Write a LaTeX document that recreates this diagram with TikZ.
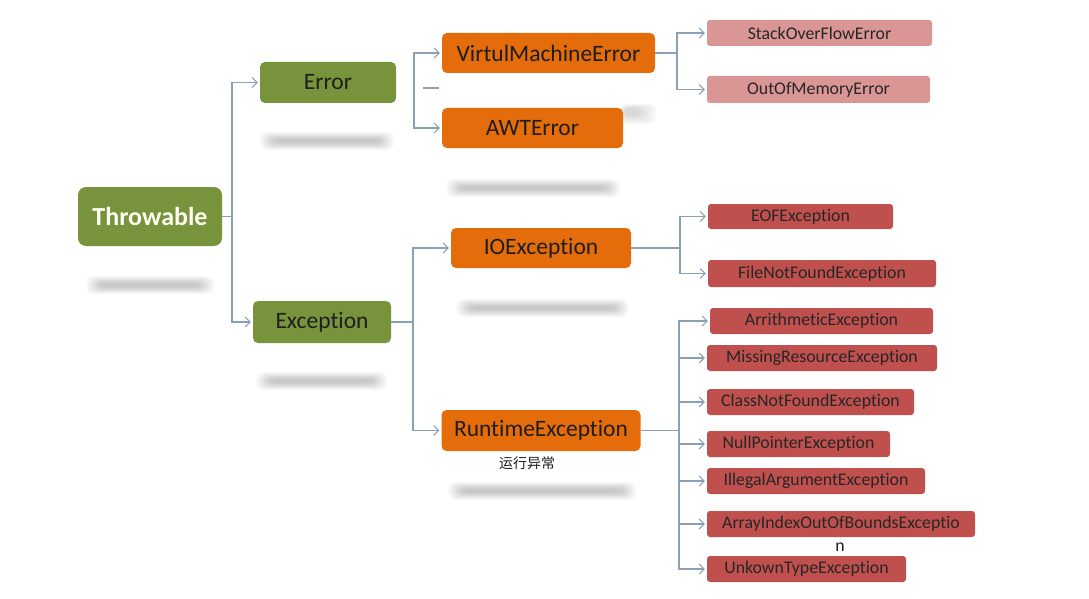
\documentclass[tikz,border=0pt]{standalone}
\usepackage{fontspec}
\setmainfont{Carlito}[Ligatures={NoCommon}]
\newfontfamily\cjk{Noto Sans CJK SC}
\usetikzlibrary{arrows.meta}
\definecolor{grn}{HTML}{77933C}
\definecolor{org}{HTML}{E46C0A}
\definecolor{pnk}{HTML}{D99694}
\definecolor{rd}{HTML}{C0504D}
\definecolor{ln}{HTML}{8AA0B4}
\definecolor{txt}{HTML}{1E1E1E}
\newcommand\blurbar[3]{%
  \foreach \i in {0,1,...,7}{%
    \fill[black,opacity=0.028,rounded corners=7pt] ({#1+\i*2},{-#3+9-\i}) rectangle ({#2-\i*2},{-#3-9+\i});}}
\tikzset{
  box/.style={rounded corners=5pt, inner sep=0pt, text=txt, align=center},
  grnbox/.style={box, fill=grn, font=\fontsize{23.5}{25}\selectfont},
  rootbox/.style={box, fill=grn, text=white!95!yellow, rounded corners=8pt, font=\bfseries\fontsize{26}{28}\selectfont},
  orgbox/.style={box, fill=org, font=\fontsize{23.5}{25}\selectfont},
  pnkbox/.style={box, fill=pnk, rounded corners=3pt, text=black!85, font=\fontsize{17.8}{19}\selectfont},
  rdbox/.style={box, fill=rd, rounded corners=3pt, text=black!85, font=\fontsize{17.8}{19}\selectfont},
  conn/.style={draw=ln, line width=1.1pt},
  arr/.style={conn, -{Straight Barb[length=5pt,width=10pt,line width=1pt]}, shorten >=2pt},
}
\begin{document}
\begin{tikzpicture}[x=1pt,y=1pt]
\useasboundingbox[fill=white] (0,0) rectangle (1089,-599);
% soft reflections
\blurbar{86}{214}{285}
\blurbar{260}{394}{141}
\blurbar{446}{620}{188}
\blurbar{456}{629}{308}
\blurbar{256}{387}{381}
\blurbar{448}{636}{491}
\foreach \i in {0,1,...,4}{\fill[black,opacity=0.03,rounded corners=6pt] ({620+\i},{-104-\i}) rectangle ({656-\i*4},{-124+\i*2});}
% nodes
\node[rootbox, minimum width=144pt, minimum height=59pt] (thr) at (150,-216.5) {Throwable};
\node[grnbox, minimum width=136pt, minimum height=41pt] (err) at (328,-82.5) {Error};
\node[grnbox, minimum width=138pt, minimum height=42pt] (exc) at (322,-322) {Exception};
\node[orgbox, minimum width=213pt, minimum height=40pt] (vme) at (548.5,-53) {VirtulMachineError};
\node[orgbox, minimum width=181pt, minimum height=40pt] (awt) at (532.5,-128) {AWTError};
\node[orgbox, minimum width=180pt, minimum height=40pt] (io) at (541,-248) {IOException};
\node[orgbox, minimum width=199pt, minimum height=41pt] (rt) at (541,-430.5) {RuntimeException};
\node[pnkbox, minimum width=225pt, minimum height=26pt] (sofe) at (819.5,-33) {StackOverFlowError};
\node[pnkbox, minimum width=223pt, minimum height=27pt] (oome) at (818.5,-89.5) {OutOfMemoryError};
\node[rdbox, minimum width=185pt, minimum height=25pt] (eof) at (800.5,-216.5) {EOFException};
\node[rdbox, minimum width=228pt, minimum height=27pt] (fnf) at (822,-273.5) {FileNotFoundException};
\node[rdbox, minimum width=223pt, minimum height=26pt] (ari) at (821.5,-321) {ArrithmeticException};
\node[rdbox, minimum width=230pt, minimum height=26pt] (mis) at (822,-358) {MissingResourceException};
\node[rdbox, minimum width=207pt, minimum height=26pt] (cnf) at (810.5,-402) {ClassNotFoundException};
\node[rdbox, minimum width=183pt, minimum height=26pt] (npe) at (798.5,-444) {NullPointerException};
\node[rdbox, minimum width=218pt, minimum height=26pt] (iae) at (816,-481) {IllegalArgumentException};
\node[rdbox, minimum width=268pt, minimum height=26pt] (aio) at (841,-524) {ArrayIndexOutOfBoundsExceptio};
\node[font=\fontsize{17.8}{19}\selectfont, text=txt, inner sep=0pt] (aion) at (840,-547) {n};
\node[rdbox, minimum width=199pt, minimum height=26pt] (ukt) at (806.5,-569) {UnkownTypeException};
\node[font=\cjk\fontsize{14}{16}\selectfont, text=txt, inner sep=0pt] (rtcn) at (527,-463) {运行异常};
% junctions
\coordinate (j1) at (232,-216.5);
\coordinate (j2) at (414,-90);
\coordinate (s1) at (423,-88);
\coordinate (s2) at (439,-88);
\coordinate (j3) at (677,-53);
\coordinate (j4) at (680,-248);
\coordinate (j5) at (413,-322);
\coordinate (j6) at (679,-430.5);
% connectors
\draw[conn] (thr.east) -- (j1);
\draw[arr] (j1) |- (err.west);
\draw[arr] (j1) |- (exc.west);
\draw[arr] (j2) |- (vme.west);
\draw[arr] (j2) |- (awt.west);
\draw[conn] (s1) -- (s2);
\draw[conn] (vme.east) -- (j3);
\draw[arr] (j3) |- (sofe.west);
\draw[arr] (j3) |- (oome.west);
\draw[conn] (exc.east) -- (j5);
\draw[arr] (j5) |- (io.west);
\draw[arr] (j5) |- (rt.west);
\draw[conn] (io.east) -- (j4);
\draw[arr] (j4) |- (eof.west);
\draw[arr] (j4) |- (fnf.west);
\draw[conn] (rt.east) -- (j6);
\foreach \n in {ari,mis,cnf,npe,iae,aio,ukt}{\draw[arr] (j6) |- (\n.west);}
\end{tikzpicture}
\end{document}
